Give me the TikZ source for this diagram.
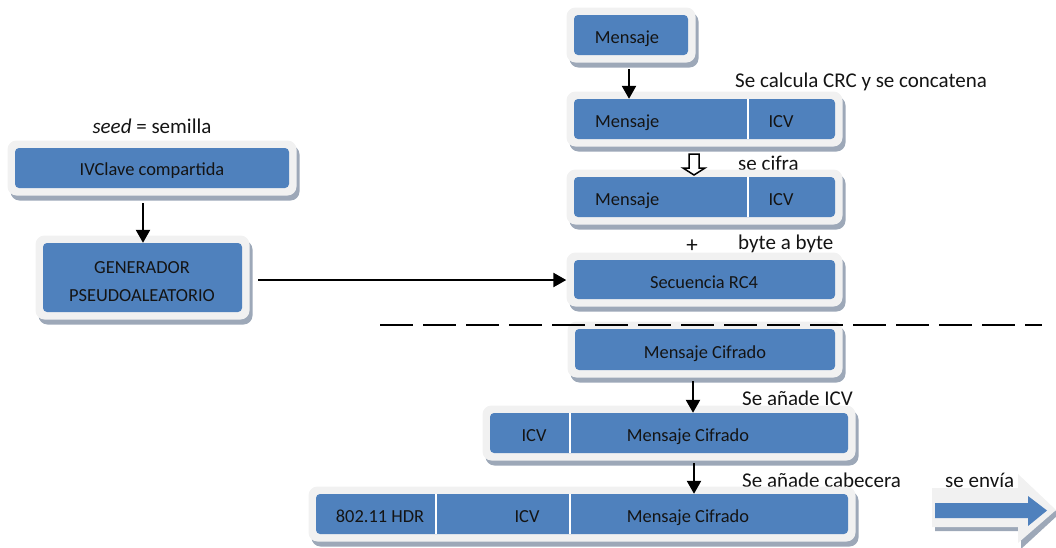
\documentclass[tikz,border=0pt]{standalone}
\usepackage{fontspec}
\setmainfont{Carlito}
\usetikzlibrary{arrows.meta,fit,shadows}
\definecolor{boxblue}{HTML}{4F81BD}
\definecolor{outerc}{HTML}{F1F1F1}
\definecolor{shadowc}{HTML}{9DA8B8}
\definecolor{txtc}{HTML}{141414}
\tikzset{
  outerbox/.style={fill=outerc, rounded corners=9pt, inner sep=7.5pt,
    drop shadow={shadow xshift=3pt, shadow yshift=-5pt, fill=shadowc, opacity=1}},
  innerbox/.style={fill=boxblue, rounded corners=4pt, inner sep=0pt},
  divider/.style={white, line width=1.6pt},
  btxt/.style={font=\fontsize{18.4}{28}\selectfont, text=txtc, inner sep=0pt, anchor=base},
  lbl/.style={font=\fontsize{21}{25}\selectfont, text=txtc, inner sep=0pt, anchor=base west},
  arr/.style={line width=2.4pt, -{Triangle[width=14pt,length=13pt]}},
}
\begin{document}
\begin{tikzpicture}[x=1pt,y=-1pt]
\useasboundingbox (0,0) rectangle (1056,547);

% labels (drawn first, boxes overlap them)
\node[lbl] (lcrc) at (735,87) {Se calcula CRC y se concatena};
\node[lbl] (lcif) at (738,170) {se cifra};
\node[lbl] (lbyte) at (738,249) {byte a byte};
\node[lbl] (licv) at (742,405) {Se añade ICV};
\node[lbl] (lcab) at (742,487) {Se añade cabecera};
\node[lbl] (lenv) at (945,487) {se envía};
\node[lbl, anchor=base] (lseed) at (152,133) {\textit{seed} = semilla};
\node[lbl, anchor=center, font=\fontsize{23}{25}\selectfont] (plus) at (692,246) {+};

% boxes
\node[outerbox, fit={(574,15) (688,55)}] (b1o) {};
\node[innerbox, fit={(574,15) (688,55)}] (b1) {};
\node[outerbox, fit={(574,99) (835,139)}] (b2o) {};
\node[innerbox, fit={(574,99) (835,139)}] (b2) {};
\node[outerbox, fit={(574,177) (835,217)}] (b3o) {};
\node[innerbox, fit={(574,177) (835,217)}] (b3) {};
\node[outerbox, fit={(574,260) (835,299)}] (b4o) {};
\node[innerbox, fit={(574,260) (835,299)}] (b4) {};
\node[outerbox, fit={(575,329) (835,370)}] (b5o) {};
\node[innerbox, fit={(575,329) (835,370)}] (b5) {};
\node[outerbox, fit={(490,413) (848,453)}] (b6o) {};
\node[innerbox, fit={(490,413) (848,453)}] (b6) {};
\node[outerbox, fit={(316,494) (848,534)}] (b7o) {};
\node[innerbox, fit={(316,494) (848,534)}] (b7) {};
\node[outerbox, fit={(15,148) (289,188)}] (ivo) {};
\node[innerbox, fit={(15,148) (289,188)}] (iv) {};
\node[outerbox, fit={(43,243) (242,312)}] (geno) {};
\node[innerbox, fit={(43,243) (242,312)}] (gen) {};

% dividers
\coordinate (d1) at (748,0);
\coordinate (d2) at (570,0);
\coordinate (d3) at (436,0);
\draw[divider] (d1 |- b2.north) -- (d1 |- b2.south);
\draw[divider] (d1 |- b3.north) -- (d1 |- b3.south);
\draw[divider] (d2 |- b6.north) -- (d2 |- b6.south);
\draw[divider] (d2 |- b7.north) -- (d2 |- b7.south);
\draw[divider] (d3 |- b7.north) -- (d3 |- b7.south);

% box texts
\node[btxt] (t1) at (627,43) {Mensaje};
\node[btxt, anchor=base west] (t2a) at (595,127) {Mensaje};
\node[btxt] (t2b) at (781,127) {ICV};
\node[btxt, anchor=base west] (t3a) at (595,205) {Mensaje};
\node[btxt] (t3b) at (781,205) {ICV};
\node[btxt] (t4) at (704,288) {Secuencia RC4};
\node[btxt] (t5) at (705,358) {Mensaje Cifrado};
\node[btxt] (t6a) at (534,441) {ICV};
\node[btxt] (t6b) at (688,441) {Mensaje Cifrado};
\node[btxt] (t7a) at (380,522) {802.11 HDR};
\node[btxt] (t7b) at (527,522) {ICV};
\node[btxt] (t7c) at (688,522) {Mensaje Cifrado};
\node[btxt] (tiv) at (152,175) {IVClave compartida};
\node[btxt] (tgen1) at (142,273) {GENERADOR};
\node[btxt] (tgen2) at (142,301) {PSEUDOALEATORIO};

% connectors
\coordinate (a1) at (629,69);
\draw[arr] (a1) -- (a1 |- b2.north);
\coordinate (a2) at (143,203);
\draw[arr] (a2) -- (a2 |- gen.north);
\coordinate (a3) at (258,280);
\draw[arr] (a3) -- (a3 -| b4o.west);
\coordinate (a4) at (693,381);
\draw[arr] (a4) -- (a4 |- b6.north);
\coordinate (a5) at (694,463);
\draw[arr] (a5) -- (a5 |- b7.north);

% hollow down arrow
\draw[line width=1.5pt, fill=white, line join=miter]
  (689,154) -- (699,154) -- (699,168) -- (705,168) -- (694,175) -- (683,168) -- (689,168) -- cycle;

% dashed separator
\coordinate (ds) at (380,325);
\coordinate (de) at (1042,325);
\draw[line width=2pt, dash pattern=on 33pt off 10pt] (ds) -- (de);

% se envía arrow
\fill[shadowc] (935,492) -- (1021,492) -- (1021,478) -- (1059,514) -- (1021,549) -- (1021,531) -- (935,531) -- cycle;
\fill[outerc] (932,488) -- (1018,488) -- (1018,474) -- (1056,510) -- (1018,543) -- (1018,527) -- (932,527) -- cycle;
\fill[boxblue] (935,503) -- (1028,503) -- (1028,496) -- (1047,510.5) -- (1028,526) -- (1028,518) -- (935,518) -- cycle;
\end{tikzpicture}
\end{document}
